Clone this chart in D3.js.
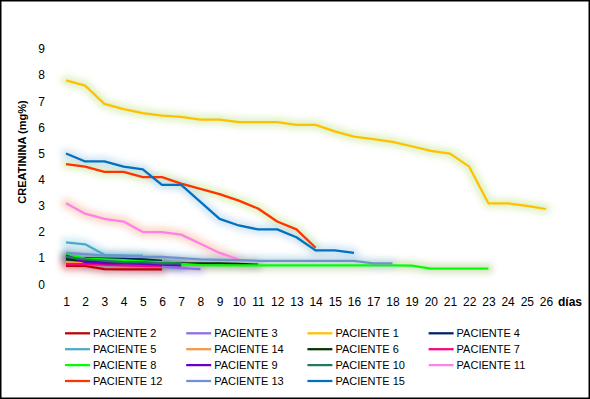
<!DOCTYPE html>
<html><head><meta charset="utf-8">
<script src="https://cdn.jsdelivr.net/npm/d3@7"></script>
<style>body{margin:0;background:#fff}svg{display:block}text{font-family:"Liberation Sans",Arial,sans-serif}</style>
</head><body>
<svg id="c" width="590" height="399"></svg>
<script>
const days = d3.range(1, 27);
const yTicks = [0,1,2,3,4,5,6,7,8,9];
const names = ["PACIENTE 2","PACIENTE 3","PACIENTE 1","PACIENTE 4","PACIENTE 5","PACIENTE 14","PACIENTE 6","PACIENTE 7","PACIENTE 8","PACIENTE 9","PACIENTE 10","PACIENTE 11","PACIENTE 12","PACIENTE 13","PACIENTE 15"];
const colors = ["#c00000","#8c6ce8","#ffc000","#002060","#4bacc6","#f79646","#003300","#ff0080","#00ff00","#6600cc","#217a5a","#ff80e6","#ff3300","#6f93d0","#0070c0"];
const glows = ["#c05050","#a0a0ff","#b8e07a","#303030","#8fd0e8","#f4a582","#404040","#ff8090","#a0c070","#6040a0","#408070","#f4a582","#b8e07a","#9cc3e6","#9cc3e6"];
const p2  = [0.7,0.7,0.58,0.57,0.57,0.57];
const p3  = [0.95,0.85,0.8,0.75,0.7,0.68,0.62,0.58];
const p1  = [7.8,7.6,6.9,6.7,6.55,6.45,6.4,6.3,6.3,6.2,6.2,6.2,6.1,6.1,5.85,5.65,5.55,5.45,5.28,5.1,5.0,4.5,3.1,3.1,3.0,2.88];
const p4  = [1.0,1.0,0.98,0.97,0.95,0.9];
const p5  = [1.6,1.53,1.13,1.1,1.1];
const p14 = [0.85,0.8,0.8,0.8,0.8,0.75,0.75,0.75];
const p6  = [0.95,0.9,0.85,0.85,0.83,0.82,0.8,0.8,0.8,0.78,0.75];
const p7  = [0.77,0.77,0.75,0.72,0.7,0.7];
const p8  = [1.15,0.98,0.95,0.92,0.88,0.85,0.78,0.73,0.72,0.72,0.72,0.72,0.72,0.72,0.72,0.72,0.72,0.72,0.71,0.6,0.6,0.6,0.6];
const p9  = [1.1,0.85,0.8,0.8,0.78,0.75,0.72];
const p10 = [1.05,0.95,0.9,0.85,0.85,0.8,0.8];
const p11 = [3.1,2.7,2.5,2.4,2.0,2.0,1.9,1.55,1.2,0.95];
const p12 = [4.6,4.5,4.3,4.3,4.1,4.1,3.85,3.65,3.45,3.2,2.9,2.4,2.1,1.4];
const p13 = [1.2,1.15,1.1,1.1,1.05,1.05,1.0,0.95,0.93,0.92,0.9,0.9,0.9,0.9,0.9,0.9,0.8,0.8];
const p15 = [5.0,4.7,4.7,4.5,4.4,3.8,3.8,3.15,2.5,2.25,2.1,2.1,1.8,1.3,1.3,1.2];
const seriesValues = [p2,p3,p1,p4,p5,p14,p6,p7,p8,p9,p10,p11,p12,p13,p15];

const svg = d3.select("#c");
const defs = svg.append("defs");
defs.append("filter").attr("id","glow").attr("x","-10%").attr("y","-50%").attr("width","120%").attr("height","200%")
  .append("feGaussianBlur").attr("stdDeviation",3.2);

svg.append("rect").attr("x",0.75).attr("y",0.75).attr("width",588.5).attr("height",397.5)
  .attr("fill","#fff").attr("stroke","#000").attr("stroke-width",1.5);

const x = d3.scalePoint().domain(days).range([66,546]);
const y = d3.scaleLinear().domain([0,9]).range([284.3,49]);

const line = d3.line().x((d,i)=>x(days[i])).y(d=>y(d));

const gGlow = svg.append("g").attr("filter","url(#glow)");
seriesValues.forEach((vals,k)=>{
  gGlow.append("path").attr("d",line(vals)).attr("fill","none")
    .attr("stroke",glows[k]).attr("stroke-opacity",0.42).attr("stroke-width",10)
    .attr("stroke-linejoin","round").attr("stroke-linecap","round");
});
const gLines = svg.append("g");
seriesValues.forEach((vals,k)=>{
  gLines.append("path").attr("d",line(vals)).attr("fill","none")
    .attr("stroke",colors[k]).attr("stroke-width",2.25).attr("stroke-linejoin","round");
});

const ya = svg.append("g").attr("transform","translate(66,0)")
  .call(d3.axisLeft(y).tickValues(yTicks).tickSize(0).tickPadding(21));
ya.select(".domain").remove();
ya.selectAll("text").attr("font-size",12).attr("fill","#000").style("font-family","'Liberation Sans',Arial,sans-serif");

const xa = svg.append("g").attr("transform","translate(0,284.3)")
  .call(d3.axisBottom(x).tickSize(0).tickPadding(13));
xa.select(".domain").remove();
xa.selectAll("text").attr("font-size",12).attr("fill","#000").style("font-family","'Liberation Sans',Arial,sans-serif");

svg.append("text").attr("x",570).attr("y",306).attr("text-anchor","middle")
  .attr("font-size",12).attr("font-weight","bold").text("días");

svg.append("text").attr("transform","translate(26,152) rotate(-90)").attr("text-anchor","middle")
  .attr("font-size",11).attr("font-weight","bold").text("CREATININA  (mg%)");

const leg = svg.append("g");
names.forEach((n,k)=>{
  const col = k%4, row = Math.floor(k/4);
  const lx = 65 + col*121.2, ly = 333.3 + row*15.9;
  leg.append("line").attr("x1",lx).attr("x2",lx+25).attr("y1",ly).attr("y2",ly)
    .attr("stroke",colors[k]).attr("stroke-width",2.25);
  leg.append("text").attr("x",lx+28).attr("y",ly+4).attr("font-size",11).text(n);
});
</script>
</body></html>
